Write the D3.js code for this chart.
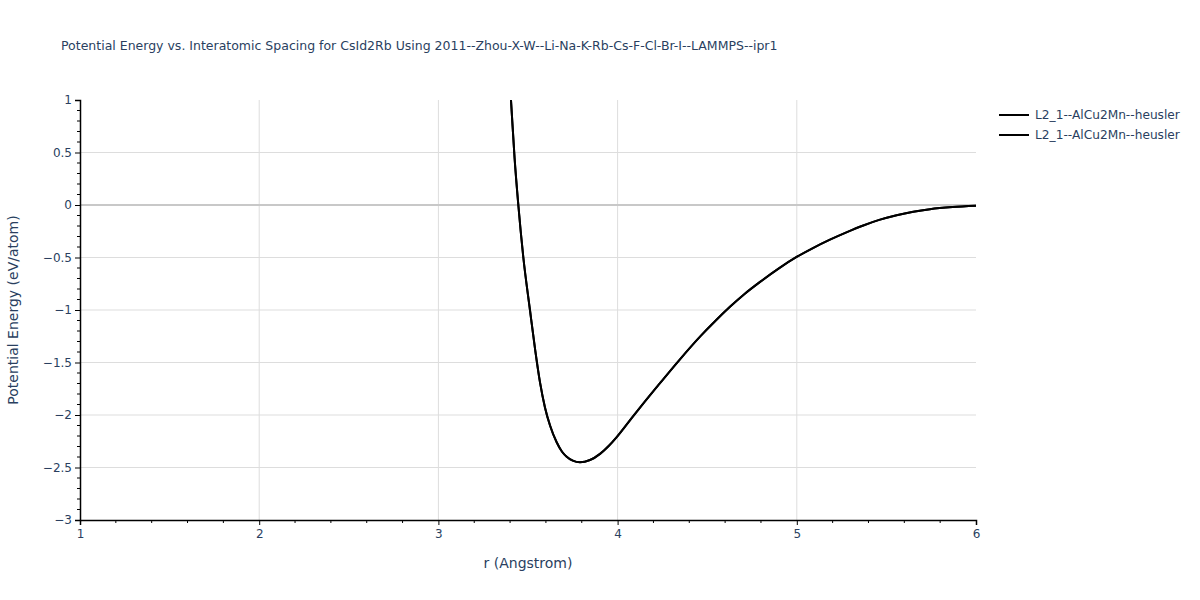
<!DOCTYPE html>
<html>
<head>
<meta charset="utf-8">
<script src="https://cdn.jsdelivr.net/npm/d3@7"></script>
<style>
body { margin: 0; background: #fff; }
svg text { font-family: "DejaVu Sans", Verdana, sans-serif; }
</style>
</head>
<body>
<svg id="chart" width="1200" height="600"></svg>
<script>
const titleText = "Potential Energy vs. Interatomic Spacing for CsId2Rb Using 2011--Zhou-X-W--Li-Na-K-Rb-Cs-F-Cl-Br-I--LAMMPS--ipr1";
const xLabel = "r (Angstrom)";
const yLabel = "Potential Energy (eV/atom)";
const seriesNames = ["L2_1--AlCu2Mn--heusler", "L2_1--AlCu2Mn--heusler"];
const rValues = [3.38, 3.405, 3.425, 3.446, 3.474, 3.511, 3.54, 3.567, 3.595, 3.623, 3.66, 3.69, 3.716, 3.75, 3.79, 3.846, 3.902, 3.95, 3.995, 4.06, 4.125, 4.24, 4.348, 4.46, 4.545, 4.627, 4.71, 4.795, 4.9, 4.999, 5.09, 5.185, 5.28, 5.371, 5.46, 5.557, 5.65, 5.743, 5.87, 6.0];
const energyValues = [1.6, 1.0, 0.45, 0.0, -0.5, -1.0, -1.38, -1.69, -1.93, -2.1, -2.26, -2.35, -2.397, -2.435, -2.451, -2.429, -2.37, -2.295, -2.21, -2.07, -1.93, -1.69, -1.47, -1.254, -1.105, -0.97, -0.845, -0.732, -0.603, -0.495, -0.41, -0.33, -0.258, -0.195, -0.142, -0.097, -0.064, -0.040, -0.02, -0.008];
const xTicks = [1, 2, 3, 4, 5, 6];
const yTicks = [1, 0.5, 0, -0.5, -1, -1.5, -2, -2.5, -3];

const svg = d3.select("#chart");
const L = 80, R = 976, T = 100, B = 520;
const x = d3.scaleLinear().domain([1, 6]).range([L, R]);
const y = d3.scaleLinear().domain([-3, 1]).range([B, T]);
const textColor = "#2a3f5f";

// grid
svg.append("g").selectAll("line").data(xTicks.filter(d => d > 1 && d < 6)).join("line")
  .attr("x1", d => x(d)).attr("x2", d => x(d)).attr("y1", T).attr("y2", B)
  .attr("stroke", "#dddddd").attr("stroke-width", 1);
svg.append("g").selectAll("line").data(yTicks.filter(d => d !== 0 && d > -3 && d < 1)).join("line")
  .attr("x1", L).attr("x2", R).attr("y1", d => y(d)).attr("y2", d => y(d))
  .attr("stroke", "#dddddd").attr("stroke-width", 1);
svg.append("line").attr("x1", L).attr("x2", R).attr("y1", y(0)).attr("y2", y(0))
  .attr("stroke", "#c8c8c8").attr("stroke-width", 2);

// clip
svg.append("defs").append("clipPath").attr("id", "clip")
  .append("rect").attr("x", L).attr("y", T).attr("width", R - L).attr("height", B - T);

const line = d3.line().x((d, i) => x(rValues[i])).y(d => y(d)).curve(d3.curveMonotoneX);
seriesNames.forEach(() => {
  svg.append("path").datum(energyValues).attr("d", line)
    .attr("fill", "none").attr("stroke", "#000").attr("stroke-width", 2)
    .attr("clip-path", "url(#clip)");
});

// axes
const xAxis = d3.axisBottom(x).tickValues(xTicks).tickFormat(d3.format("d")).tickSize(5).tickPadding(4);
const gx = svg.append("g").attr("transform", `translate(0,${B})`).call(xAxis);
const xMinor = d3.range(1.2, 6, 0.2).filter(v => Math.abs(v - Math.round(v)) > 0.01);
gx.selectAll(".minor").data(xMinor).join("line").attr("class", "minor")
  .attr("x1", d => x(d)).attr("x2", d => x(d)).attr("y1", 0).attr("y2", 3).attr("stroke", "#000");
const yAxis = d3.axisLeft(y).tickValues(yTicks).tickFormat(d => d < 0 ? "\u2212" + Math.abs(d) : d).tickSize(5).tickPadding(3);
const gy = svg.append("g").attr("transform", `translate(${L},0)`).call(yAxis);
const yMinor = d3.range(-2.9, 1, 0.1).filter(v => Math.abs(v * 2 - Math.round(v * 2)) > 0.01);
gy.selectAll(".minor").data(yMinor).join("line").attr("class", "minor")
  .attr("y1", d => y(d)).attr("y2", d => y(d)).attr("x1", 0).attr("x2", -3).attr("stroke", "#000");
[gx, gy].forEach(g => {
  g.select(".domain").attr("stroke", "#000").attr("stroke-width", 1.5);
  g.selectAll(".tick line").attr("stroke", "#000");
  g.selectAll(".tick text").attr("fill", textColor).style("font-size", "12px")
    .style("font-family", '"DejaVu Sans", Verdana, sans-serif');
});

// titles
svg.append("text").attr("x", 61).attr("y", 50).text(titleText)
  .attr("fill", textColor).style("font-size", "12.5px");
svg.append("text").attr("x", (L + R) / 2).attr("y", 568).attr("text-anchor", "middle")
  .text(xLabel).attr("fill", textColor).style("font-size", "14px");
svg.append("text").attr("transform", `translate(18,${(T + B) / 2}) rotate(-90)`)
  .attr("text-anchor", "middle").text(yLabel).attr("fill", textColor).style("font-size", "14px");

// legend
const lg = svg.append("g");
seriesNames.forEach((name, i) => {
  const yy = 115 + i * 20;
  lg.append("line").attr("x1", 999).attr("x2", 1029).attr("y1", yy).attr("y2", yy)
    .attr("stroke", "#000").attr("stroke-width", 2);
  lg.append("text").attr("x", 1035).attr("y", yy + 4).text(name)
    .attr("fill", textColor).style("font-size", "12.2px");
});
</script>
</body>
</html>
